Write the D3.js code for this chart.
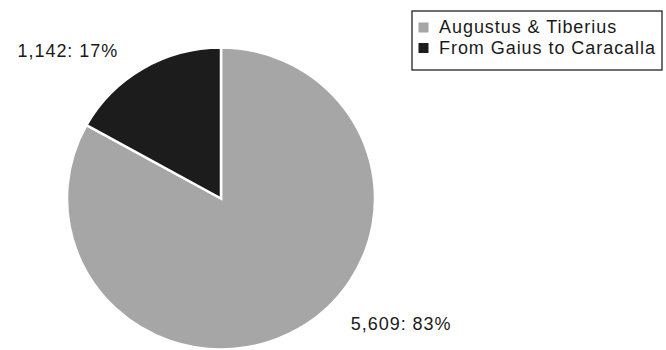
<!DOCTYPE html>
<html>
<head>
<meta charset="utf-8">
<script src="https://cdn.jsdelivr.net/npm/d3@7"></script>
<style>
  body { margin: 0; background: #fff; }
  svg { display: block; }
  text { font-family: "Liberation Sans", Arial, Helvetica, sans-serif; fill: #1a1a1a; font-size: 18px; letter-spacing: 0.95px; }
</style>
</head>
<body>
<div id="container"></div>
<script>
// data
const categories = ["Augustus & Tiberius", "From Gaius to Caracalla"];
const counts = [5609, 1142];
const percents = [83, 17];
const colors = ["#a6a6a6", "#1c1c1c"];

const width = 666;
const height = 350;

const svg = d3.select("#container").append("svg")
    .attr("width", width)
    .attr("height", height);

//----------------------------PIE------------------------------//
const cx = 221, cy = 198.5;
const radius = 154;

const pie = d3.pie().sort(null).value(d => d.count);
const arcs = pie(counts.map((c, i) => ({ name: categories[i], count: c, pct: percents[i], color: colors[i] })));

const arc = d3.arc().innerRadius(0).outerRadius(radius);

// the scan is a bit squashed vertically
const g = svg.append("g")
    .attr("transform", "translate(" + cx + "," + cy + ") scale(1,0.98)");

g.selectAll("path.slice")
    .data(arcs)
    .enter()
    .append("path")
    .attr("class", "slice")
    .attr("d", arc)
    .attr("fill", d => d.data.color)
    .attr("stroke", "#fff")
    .attr("stroke-width", 2.5)
    .attr("stroke-linejoin", "miter");

//---------------------------LABELS----------------------------//
const labelArc = d3.arc().innerRadius(radius * 1.1).outerRadius(radius * 1.1);
const fmt = d3.format(",");
// nudges so the labels sit like the original (outside, best fit)
const nudge = [[44, -12, "start"], [-17, 1.5, "end"]];

arcs.forEach(function (d, i) {
    const c = labelArc.centroid(d);
    svg.append("text")
        .attr("x", cx + c[0] + nudge[i][0])
        .attr("y", cy + c[1] * 0.98 + nudge[i][1])
        .attr("text-anchor", nudge[i][2])
        .text(fmt(d.data.count) + ": " + d.data.pct + "%");
});

//---------------------------LEGEND----------------------------//
const legend = svg.append("g").attr("transform", "translate(412,11)");

legend.append("rect")
    .attr("x", 0).attr("y", 0)
    .attr("width", 250).attr("height", 59)
    .attr("fill", "#fff")
    .attr("stroke", "#222")
    .attr("stroke-width", 1.3);

const items = legend.selectAll("g.item")
    .data(categories)
    .enter()
    .append("g")
    .attr("class", "item")
    .attr("transform", (d, i) => "translate(0," + (22 + i * 20.5) + ")");

items.append("rect")
    .attr("x", 6.5).attr("y", -10.5)
    .attr("width", 10).attr("height", 10)
    .attr("fill", (d, i) => colors[i]);

items.append("text")
    .attr("x", 27)
    .attr("y", 0)
    .text(d => d);
</script>
</body>
</html>
